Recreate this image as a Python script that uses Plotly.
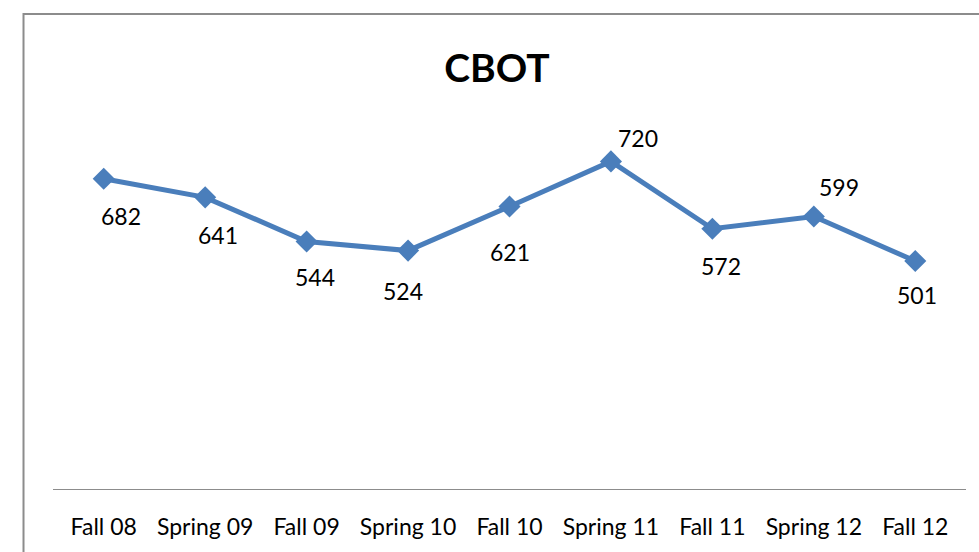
import plotly.graph_objects as go

categories = ["Fall 08", "Spring 09", "Fall 09", "Spring 10", "Fall 10",
              "Spring 11", "Fall 11", "Spring 12", "Fall 12"]
values = [682, 641, 544, 524, 621, 720, 572, 599, 501]
# manual label offsets (pixels) as placed in the original chart
label_dx = [17, 13, 8, -5, 0, 27, 9, 25, 2]
label_dy = [-37, -38, -36, -40, -46, 23, -37, 29, -34]

FONT = "Lato, Calibri, Carlito, sans-serif"
BLUE = "#4A7EBB"

fig = go.Figure()
fig.add_trace(go.Scatter(
    x=categories, y=values, mode="lines+markers",
    line=dict(color=BLUE, width=5),
    marker=dict(symbol="diamond", size=17, color=BLUE),
    hoverinfo="x+y", showlegend=False,
))

for c, v, dx, dy in zip(categories, values, label_dx, label_dy):
    fig.add_annotation(x=c, y=v, text=str(v), showarrow=False,
                       xshift=dx, yshift=dy, xanchor="center", yanchor="middle",
                       font=dict(family=FONT, size=23, color="black"))

# chart border (partly clipped by the image edges, as in the reference)
fig.add_shape(type="rect", xref="paper", yref="paper",
              x0=-0.0323, x1=1.05, y0=-0.3, y1=1.305,
              line=dict(color="#8C8C8C", width=2), fillcolor="rgba(0,0,0,0)",
              layer="below")

fig.update_layout(
    width=979, height=552,
    margin=dict(l=53, r=13, t=124.5, b=60.5),
    paper_bgcolor="white", plot_bgcolor="white",
    title=dict(text="<b>CBOT</b>", x=497/979, xanchor="center",
               y=1 - 68/552, yanchor="middle",
               font=dict(family=FONT, size=39, color="black")),
    xaxis=dict(type="category", range=[-0.5, 8.5], showgrid=False,
               showline=True, linecolor="#8C8C8C", linewidth=1.3,
               ticks="outside", ticklen=17, tickcolor="rgba(0,0,0,0)",
               tickfont=dict(family=FONT, size=23, color="black"),
               zeroline=False, fixedrange=True),
    yaxis=dict(range=[0, 800], visible=False, showgrid=False,
               zeroline=False, fixedrange=True),
    font=dict(family=FONT),
)

fig.write_html("out.html",
               config={"displayModeBar": False},
               post_script="document.body.style.margin='0';"
                           "document.body.style.overflow='hidden';")
